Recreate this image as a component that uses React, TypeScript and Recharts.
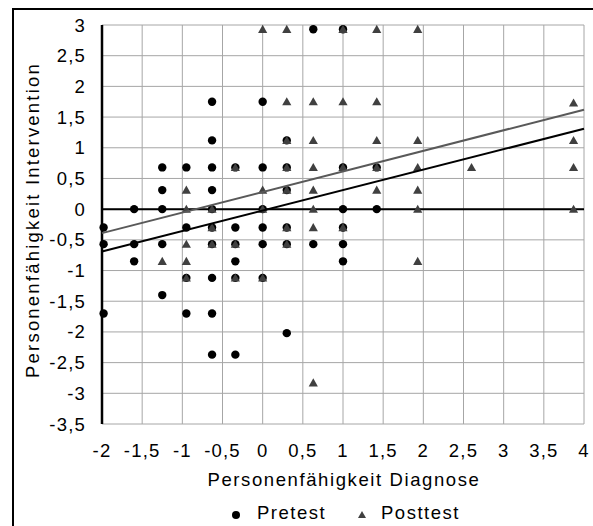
import React from 'react';
import {
  ScatterChart,
  Scatter,
  XAxis,
  YAxis,
  CartesianGrid,
  ReferenceLine,
} from 'recharts';

const xTicks = [-2, -1.5, -1, -0.5, 0, 0.5, 1, 1.5, 2, 2.5, 3, 3.5, 4];
const yTicks = [-3.5, -3, -2.5, -2, -1.5, -1, -0.5, 0, 0.5, 1, 1.5, 2, 2.5, 3];

const pretest = [
  { x: 0.63, y: 2.93 }, { x: 1.0, y: 2.93 },
  { x: -0.63, y: 1.75 }, { x: 0, y: 1.75 },
  { x: -0.63, y: 1.12 }, { x: 0.3, y: 1.12 },
  { x: -1.25, y: 0.68 }, { x: -0.95, y: 0.68 }, { x: -0.63, y: 0.68 }, { x: -0.34, y: 0.68 },
  { x: 0, y: 0.68 }, { x: 0.3, y: 0.68 }, { x: 1.0, y: 0.68 }, { x: 1.42, y: 0.68 },
  { x: -1.25, y: 0.31 }, { x: -0.63, y: 0.31 }, { x: 0.3, y: 0.31 },
  { x: -1.6, y: 0 }, { x: -1.25, y: 0 }, { x: -0.63, y: 0 }, { x: 0, y: 0 }, { x: 1.0, y: 0 }, { x: 1.42, y: 0 },
  { x: -1.98, y: -0.3 }, { x: -0.95, y: -0.3 }, { x: -0.63, y: -0.3 }, { x: -0.34, y: -0.3 },
  { x: 0, y: -0.3 }, { x: 0.3, y: -0.3 }, { x: 1.0, y: -0.3 },
  { x: -1.98, y: -0.57 }, { x: -1.6, y: -0.57 }, { x: -1.25, y: -0.57 }, { x: -0.63, y: -0.57 },
  { x: -0.34, y: -0.57 }, { x: 0, y: -0.57 }, { x: 0.3, y: -0.57 }, { x: 0.63, y: -0.57 }, { x: 1.0, y: -0.57 },
  { x: -1.6, y: -0.85 }, { x: -0.34, y: -0.85 }, { x: 1.0, y: -0.85 },
  { x: -0.95, y: -1.12 }, { x: -0.63, y: -1.12 }, { x: -0.34, y: -1.12 }, { x: 0, y: -1.12 },
  { x: -1.25, y: -1.4 },
  { x: -1.98, y: -1.7 }, { x: -0.95, y: -1.7 }, { x: -0.63, y: -1.7 },
  { x: 0.3, y: -2.02 },
  { x: -0.63, y: -2.37 }, { x: -0.34, y: -2.37 },
];

const posttest = [
  { x: 0, y: 2.93 }, { x: 0.3, y: 2.93 }, { x: 1.0, y: 2.93 }, { x: 1.42, y: 2.93 }, { x: 1.93, y: 2.93 },
  { x: 0.3, y: 1.75 }, { x: 0.63, y: 1.75 }, { x: 1.0, y: 1.75 }, { x: 1.42, y: 1.75 }, { x: 3.87, y: 1.73 },
  { x: 0.3, y: 1.12 }, { x: 0.63, y: 1.12 }, { x: 1.42, y: 1.12 }, { x: 1.93, y: 1.12 }, { x: 3.87, y: 1.12 },
  { x: -0.34, y: 0.68 }, { x: 0.3, y: 0.68 }, { x: 0.63, y: 0.68 }, { x: 1.0, y: 0.68 },
  { x: 1.42, y: 0.68 }, { x: 1.93, y: 0.68 }, { x: 2.6, y: 0.68 }, { x: 3.87, y: 0.68 },
  { x: -0.95, y: 0.31 }, { x: 0, y: 0.31 }, { x: 0.3, y: 0.31 }, { x: 0.63, y: 0.31 }, { x: 1.42, y: 0.31 }, { x: 1.93, y: 0.31 },
  { x: -0.95, y: 0 }, { x: -0.63, y: 0 }, { x: 0, y: 0 }, { x: 0.63, y: 0 }, { x: 1.93, y: 0 }, { x: 3.87, y: 0 },
  { x: -0.63, y: -0.3 }, { x: 0.3, y: -0.3 }, { x: 0.63, y: -0.3 }, { x: 1.0, y: -0.3 },
  { x: -0.95, y: -0.57 }, { x: -0.63, y: -0.57 }, { x: -0.34, y: -0.57 }, { x: 0.3, y: -0.57 },
  { x: -1.25, y: -0.85 }, { x: -0.95, y: -0.85 }, { x: 1.93, y: -0.85 },
  { x: -0.95, y: -1.12 }, { x: -0.34, y: -1.12 }, { x: 0, y: -1.12 },
  { x: 0.63, y: -2.83 },
];

const pretestTrend = [{ x: -2, y: -0.69 }, { x: 4, y: 1.31 }];
const posttestTrend = [{ x: -2, y: -0.39 }, { x: 4, y: 1.62 }];

const FONT = '"Liberation Sans", Arial, Helvetica, sans-serif';
const TRI = '#404040';
const fmt = (v: number) => String(v).replace('.', ',');

const Dot = (p: any) => <circle cx={p.cx} cy={p.cy} r={4.2} fill="#000" />;
const Tri = (p: any) => (
  <polygon
    points={`${p.cx},${p.cy - 4.5} ${p.cx + 4.6},${p.cy + 3.6} ${p.cx - 4.6},${p.cy + 3.6}`}
    fill={TRI}
  />
);
const NoShape = () => <g />;

const tickStyle = { fill: '#000', fontSize: 18.5, fontFamily: FONT, letterSpacing: 1.2 };

const XLabel = (props: any) => {
  const vb = props.viewBox || {};
  return (
    <text
      x={vb.x + vb.width / 2 + 1}
      y={486}
      textAnchor="middle"
      fontSize={18.5}
      fontFamily={FONT}
      letterSpacing={1.6}
      fill="#000"
    >
      Personenfähigkeit Diagnose
    </text>
  );
};

const YLabel = () => (
  <text
    x={0}
    y={0}
    transform="translate(39, 220) rotate(-90)"
    textAnchor="middle"
    fontSize={18.5}
    fontFamily={FONT}
    letterSpacing={2.2}
    fill="#000"
  >
    Personenfähigkeit Intervention
  </text>
);

export default function App() {
  return (
    <div
      style={{
        position: 'absolute',
        left: 0,
        top: 0,
        width: 593,
        height: 526,
        overflow: 'hidden',
        background: '#fff',
        fontFamily: FONT,
      }}
    >
      <div
        style={{
          position: 'absolute',
          left: 12,
          top: 8,
          width: 700,
          height: 700,
          border: '2px solid #000',
        }}
      />
      <div style={{ position: 'absolute', left: 0, top: 0 }}>
        <ScatterChart
          width={593}
          height={526}
          margin={{ top: 25, right: 9, left: 0, bottom: 0 }}
        >
          <CartesianGrid stroke="#a6a6a6" strokeWidth={1} />
          <XAxis
            type="number"
            dataKey="x"
            domain={[-2, 4]}
            ticks={xTicks}
            tickFormatter={fmt}
            axisLine={false}
            tickLine={false}
            tick={tickStyle}
            tickMargin={14}
            height={102}
            label={<XLabel />}
          />
          <YAxis
            type="number"
            dataKey="y"
            domain={[-3.5, 3]}
            ticks={yTicks}
            tickFormatter={fmt}
            axisLine={{ stroke: '#000', strokeWidth: 2 }}
            tickLine={false}
            tick={tickStyle}
            tickMargin={10}
            width={102}
            label={<YLabel />}
          />
          <ReferenceLine x={-2} stroke="#000" strokeWidth={2.5} />
          <ReferenceLine y={0} stroke="#000" strokeWidth={2} />
          <Scatter name="Pretest" data={pretest} shape={Dot} isAnimationActive={false} />
          <Scatter name="Posttest" data={posttest} shape={Tri} isAnimationActive={false} />
          <Scatter
            data={pretestTrend}
            shape={NoShape}
            line={{ stroke: '#000', strokeWidth: 2 }}
            isAnimationActive={false}
          />
          <Scatter
            data={posttestTrend}
            shape={NoShape}
            line={{ stroke: '#595959', strokeWidth: 2 }}
            isAnimationActive={false}
          />
        </ScatterChart>
      </div>
      <div
        style={{
          position: 'absolute',
          left: 0,
          top: 503,
          width: 593,
          height: 24,
          fontSize: 18.5,
          letterSpacing: 1.5,
          color: '#000',
        }}
      >
        <svg style={{ position: 'absolute', left: 231, top: 7 }} width={10} height={10}>
          <circle cx={5} cy={5} r={4} fill="#000" />
        </svg>
        <span style={{ position: 'absolute', left: 257, top: 0, lineHeight: '20px' }}>Pretest</span>
        <svg style={{ position: 'absolute', left: 357, top: 7 }} width={10} height={10}>
          <polygon points="5,1 9,8 1,8" fill={TRI} />
        </svg>
        <span style={{ position: 'absolute', left: 381, top: 0, lineHeight: '20px' }}>Posttest</span>
      </div>
    </div>
  );
}
